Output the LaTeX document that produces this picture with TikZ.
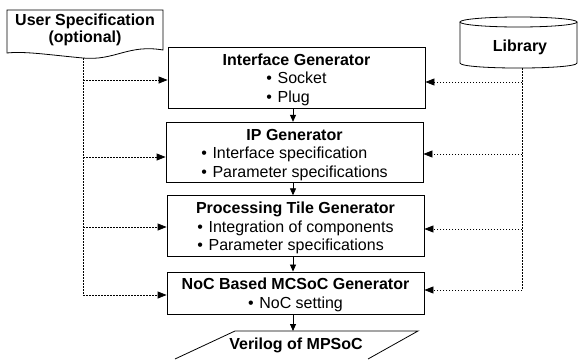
\documentclass[tikz,border=0pt]{standalone}
\usepackage{fontspec}
\setmainfont{Liberation Sans}
\usetikzlibrary{arrows.meta}
\newcommand\blist[1]{\begin{tabular}[t]{@{}l@{}}#1\end{tabular}}
\newcommand\bul{\textbullet\hspace{0.35em}}
\newcommand\topstrut{\rule{0pt}{18pt}}
\begin{document}
\begin{tikzpicture}[x=1pt,y=-1pt,
  every node/.style={font=\fontsize{16}{18.5}\selectfont},
  box/.style={draw, line width=0.8pt, rectangle, inner sep=0pt, align=center, minimum width=257pt},
  flow/.style={-{Triangle[length=7pt,width=6pt]}, line width=0.8pt},
  dotline/.style={line width=0.8pt, dash pattern=on 1.5pt off 1.5pt},
  dotarrow/.style={dotline, -{Triangle[length=9pt,width=7pt]}},
  shapeline/.style={line width=0.8pt}
]
\useasboundingbox (0,0) rectangle (578,359);

% boxes
\node[box, minimum height=61pt] (ig) at (296.5,77.5)
  {\topstrut\textbf{Interface Generator}\\\blist{\bul Socket\\ \bul Plug}};
\node[box, minimum height=59pt] (ip) at (294.5,152.5)
  {\topstrut\textbf{IP Generator}\\\blist{\bul Interface specification\\ \bul Parameter specifications}};
\node[box, minimum height=56pt] (pt) at (295.5,226)
  {\topstrut\textbf{Processing Tile Generator}\\\blist{\bul Integration of components\\ \bul Parameter specifications}};
\node[box, minimum height=42pt] (nc) at (295.5,293)
  {\topstrut\textbf{NoC Based MCSoC Generator}\\\blist{\bul NoC setting}};

% user specification document
\draw[shapeline] (7,10) -- (163,10) -- (163,50)
  .. controls (128,44) and (115,61) .. (83,58)
  .. controls (50,55) and (25,51) .. (7,53) -- cycle;
\node[align=center, font=\fontsize{16}{17}\selectfont] (us) at (85,30) {\textbf{User Specification}\\\textbf{(optional)}};

% library cylinder
\draw[shapeline] (518.5,22) ellipse [x radius=58.5, y radius=5];
\draw[shapeline] (460,22) -- (460,63) .. controls (460,69.7) and (577,69.7) .. (577,63) -- (577,22);
\node (lib) at (520,47) {\textbf{Library}};

% output
\draw[shapeline] (175,359) -- (235,331) -- (418,331) -- (368,359);
\node (ver) at (296,345) {\textbf{Verilog of MPSoC}};

% flow arrows
\coordinate (ax) at (293,0);
\coordinate (vtop) at (293,331);
\draw[flow] (ig.south -| ax) -- (ip.north -| ax);
\draw[flow] (ip.south -| ax) -- (pt.north -| ax);
\draw[flow] (pt.south -| ax) -- (nc.north -| ax);
\draw[flow] (nc.south -| ax) -- (vtop);

% left dotted lines
\coordinate (ls) at (83,58);
\coordinate (l1) at (83,80);
\coordinate (l2) at (83,157);
\coordinate (l3) at (83,227);
\coordinate (l4) at (83,295);
\draw[dotline] (ls) -- (l4);
\draw[dotarrow] (l1) -- (ig.west |- l1);
\draw[dotarrow] (l2) -- (ip.west |- l2);
\draw[dotarrow] (l3) -- (pt.west |- l3);
\draw[dotarrow] (l4) -- (nc.west |- l4);

% right dotted lines
\coordinate (rs) at (522,68);
\coordinate (r1) at (522,82);
\coordinate (r2) at (522,154);
\coordinate (r3) at (522,229);
\coordinate (r4) at (522,290);
\draw[dotline] (rs) -- (r4);
\draw[dotarrow] (r1) -- (ig.east |- r1);
\draw[dotarrow] (r2) -- (ip.east |- r2);
\draw[dotarrow] (r3) -- (pt.east |- r3);
\draw[dotarrow] (r4) -- (nc.east |- r4);
\end{tikzpicture}
\end{document}
